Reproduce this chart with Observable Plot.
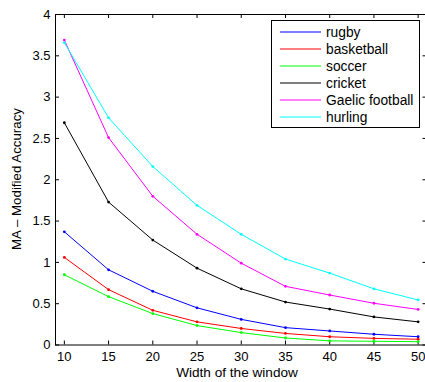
<!DOCTYPE html>
<html><head><meta charset="utf-8">
<script src="https://cdn.jsdelivr.net/npm/d3@7"></script>
<script src="https://cdn.jsdelivr.net/npm/@observablehq/plot@0.6"></script>
<style>body{margin:0;background:#fff;overflow:hidden}</style>
</head><body><div id="chart"></div>
<script>
const windows = [10, 15, 20, 25, 30, 35, 40, 45, 50];
const sports = ["rugby", "basketball", "soccer", "cricket", "Gaelic football", "hurling"];
const colors = ["#0000ff", "#ff0000", "#00ff00", "#000000", "#ff00ff", "#00ffff"];
const rugby = [1.37, 0.91, 0.65, 0.45, 0.31, 0.21, 0.17, 0.13, 0.10];
const basketball = [1.06, 0.67, 0.42, 0.28, 0.20, 0.14, 0.10, 0.08, 0.07];
const soccer = [0.85, 0.585, 0.38, 0.235, 0.15, 0.085, 0.05, 0.045, 0.04];
const cricket = [2.69, 1.73, 1.27, 0.93, 0.68, 0.52, 0.435, 0.34, 0.28];
const gaelic = [3.69, 2.51, 1.80, 1.34, 0.99, 0.71, 0.605, 0.505, 0.43];
const hurling = [3.66, 2.75, 2.16, 1.69, 1.34, 1.04, 0.87, 0.68, 0.545];
const xTicks = [10, 15, 20, 25, 30, 35, 40, 45, 50];
const yTicks = [0, 0.5, 1, 1.5, 2, 2.5, 3, 3.5, 4];
const xLabel = "Width of the window";
const yLabel = "MA \u2013 Modified Accuracy";

const seriesValues = [rugby, basketball, soccer, cricket, gaelic, hurling];
const data = [];
sports.forEach((s, i) => windows.forEach((w, j) => data.push({sport: s, w, v: seriesValues[i][j]})));

const W = 425, H = 382, mL = 55, mR = -1.5, mT = 14, mB = 37.5;
const fw = W - mL - mR, fh = H - mT - mB, tl = 4;

const plot = Plot.plot({
  width: W, height: H,
  marginLeft: mL, marginRight: mR, marginTop: mT, marginBottom: mB,
  style: {fontFamily: "'Liberation Sans', Arial, sans-serif", fontSize: "13px", background: "#fff", color: "#000"},
  x: {domain: [9, 51]},
  y: {domain: [0, 4]},
  color: {domain: sports, range: colors},
  marks: [
    Plot.frame({stroke: "#000", strokeWidth: 1}),
    Plot.tickX(xTicks, {x: d => d, insetTop: fh - tl, stroke: "#000"}),
    Plot.tickX(xTicks, {x: d => d, insetBottom: fh - tl, stroke: "#000"}),
    Plot.tickY(yTicks, {y: d => d, insetRight: fw - tl, stroke: "#000"}),
    Plot.tickY(yTicks, {y: d => d, insetLeft: fw - tl, stroke: "#000"}),
    Plot.axisX({ticks: xTicks, tickSize: 0, tickPadding: 6.5, label: null, fill: "#000"}),
    Plot.axisY({ticks: yTicks, tickSize: 0, tickPadding: 5, label: null, fill: "#000", tickFormat: d => String(d)}),
    Plot.line(data, {x: "w", y: "v", z: "sport", stroke: "sport", strokeWidth: 1}),
    Plot.dot(data, {x: "w", y: "v", fill: "sport", r: 1.4, stroke: null})
  ]
});
document.getElementById("chart").appendChild(plot);

const svg = d3.select(plot);
svg.append("text").attr("x", (mL + 419) / 2).attr("y", 377).attr("text-anchor", "middle")
  .attr("font-size", 13.6).attr("fill", "#000").text(xLabel);
svg.append("text").attr("transform", "translate(21,179) rotate(-90)").attr("text-anchor", "middle")
  .attr("font-size", 13.3).attr("fill", "#000").text(yLabel);

const lg = svg.append("g").attr("text-anchor", "start");
lg.append("rect").attr("x", 271.5).attr("y", 20.5).attr("width", 148).attr("height", 107)
  .attr("fill", "#fff").attr("stroke", "#000").attr("stroke-width", 1);
sports.forEach((s, i) => {
  const y = 32 + i * 17;
  lg.append("line").attr("x1", 280).attr("x2", 321).attr("y1", y).attr("y2", y)
    .style("stroke", colors[i]).style("stroke-width", "1.2px");
  lg.append("text").attr("x", 326).attr("y", y + 5).attr("text-anchor", "start")
    .attr("font-size", 13.8).attr("fill", "#000").text(s);
});
</script>
</body></html>
